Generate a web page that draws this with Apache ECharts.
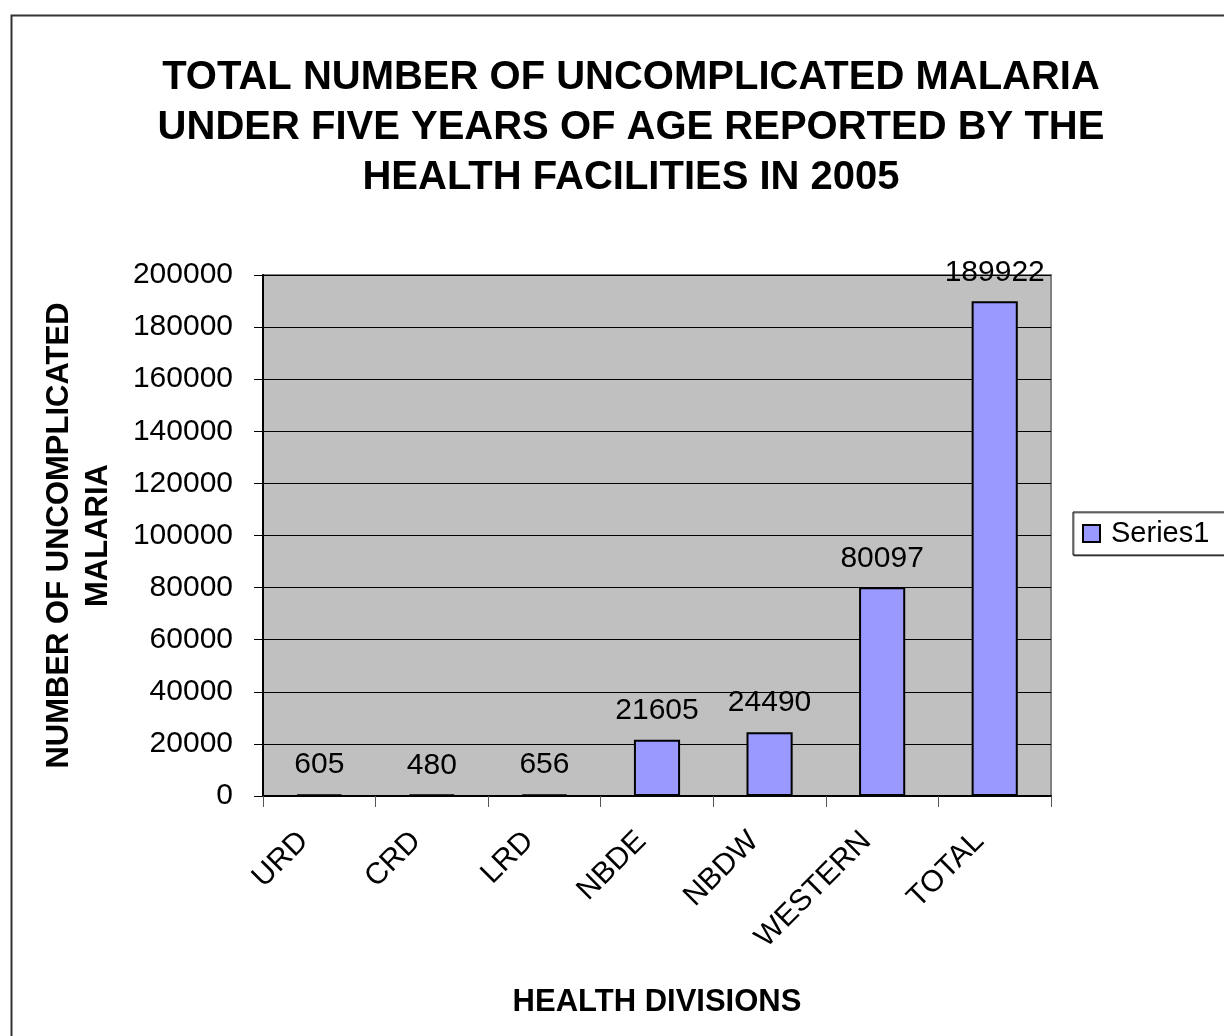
<!DOCTYPE html>
<html>
<head>
<meta charset="utf-8">
<style>
  html, body { margin: 0; padding: 0; background: #ffffff; }
  #chart { width: 1224px; height: 1036px; }
</style>
<script src="https://cdn.jsdelivr.net/npm/echarts@6/dist/echarts.min.js"></script>
</head>
<body>
<div id="chart"></div>
<script>
// Health divisions and their reported uncomplicated malaria cases (under five, 2005)
const divisions = ['URD', 'CRD', 'LRD', 'NBDE', 'NBDW', 'WESTERN', 'TOTAL'];
const cases = [605, 480, 656, 21605, 24490, 80097, 189922];
const yTicks = { min: 0, max: 200000, interval: 20000 };

const FONT = 'Liberation Sans, Arial, sans-serif';
const chart = echarts.init(document.getElementById('chart'), null, { renderer: 'canvas' });

const gridBox = { left: 263, top: 275, right: 173, bottom: 240 };

chart.setOption({
  backgroundColor: '#ffffff',
  animation: false,
  title: {
    text: 'TOTAL NUMBER OF UNCOMPLICATED MALARIA\nUNDER FIVE YEARS OF AGE REPORTED BY THE\nHEALTH FACILITIES IN 2005',
    left: 626,
    top: 48,
    textAlign: 'center',
    textStyle: {
      fontFamily: FONT,
      fontWeight: 'bold',
      fontSize: 40,
      lineHeight: 50,
      color: '#000000'
    }
  },
  legend: {
    data: ['Series1'],
    left: 1073,
    top: 512,
    orient: 'vertical',
    padding: [7, 40, 7, 9],
    backgroundColor: '#ffffff',
    borderColor: '#000000',
    borderWidth: 1,
    shadowColor: 'rgba(0,0,0,0.5)',
    shadowOffsetX: 1,
    shadowOffsetY: 1,
    itemWidth: 17,
    itemHeight: 17,
    itemGap: 4,
    icon: 'rect',
    itemStyle: { borderColor: '#000000', borderWidth: 2 },
    textStyle: { fontFamily: FONT, fontSize: 29, color: '#000000', padding: [0, 0, 0, 6] }
  },
  grid: Object.assign({
    show: true,
    backgroundColor: '#c0c0c0',
    borderColor: '#808080',
    borderWidth: 2,
    containLabel: false
  }, gridBox),
  xAxis: {
    type: 'category',
    data: divisions,
    boundaryGap: true,
    name: 'HEALTH DIVISIONS',
    nameLocation: 'middle',
    nameGap: 191,
    nameTextStyle: { fontFamily: FONT, fontWeight: 'bold', fontSize: 31, color: '#000000' },
    axisLine: { show: true, lineStyle: { color: '#000000', width: 2 } },
    axisTick: { show: true, alignWithLabel: false, length: 11, inside: false, lineStyle: { color: '#555555', width: 1 } },
    axisLabel: {
      rotate: 45,
      interval: 0,
      margin: 25,
      padding: [0, 22, 0, 0],
      fontFamily: FONT,
      fontSize: 30,
      color: '#000000'
    },
    splitLine: { show: false }
  },
  yAxis: {
    type: 'value',
    min: yTicks.min,
    max: yTicks.max,
    interval: yTicks.interval,
    name: 'NUMBER OF UNCOMPLICATED\nMALARIA',
    nameLocation: 'middle',
    nameRotate: 90,
    nameGap: 145,
    nameTextStyle: { fontFamily: FONT, fontWeight: 'bold', fontSize: 31, lineHeight: 39, color: '#000000' },
    axisLine: { show: true, lineStyle: { color: '#000000', width: 2 } },
    axisTick: { show: true, length: 9, lineStyle: { color: '#000000', width: 1 } },
    axisLabel: {
      margin: 30,
      formatter: function (v) { return String(v); },
      fontFamily: FONT,
      fontSize: 30,
      color: '#000000'
    },
    splitLine: { show: true, lineStyle: { color: '#000000', width: 1 } }
  },
  series: [{
    name: 'Series1',
    type: 'bar',
    data: cases,
    barWidth: '41%',
    itemStyle: { color: '#9999ff', borderColor: '#000000', borderWidth: 2 },
    label: {
      show: true,
      position: 'top',
      distance: 14,
      fontFamily: FONT,
      fontSize: 30,
      color: '#000000'
    }
  }],
  graphic: [{
    type: 'rect',
    silent: true,
    z: -10,
    shape: { x: 11.5, y: 15.5, width: 1400, height: 1200 },
    style: { fill: 'none', stroke: '#333333', lineWidth: 2 }
  }]
});
</script>
</body>
</html>
